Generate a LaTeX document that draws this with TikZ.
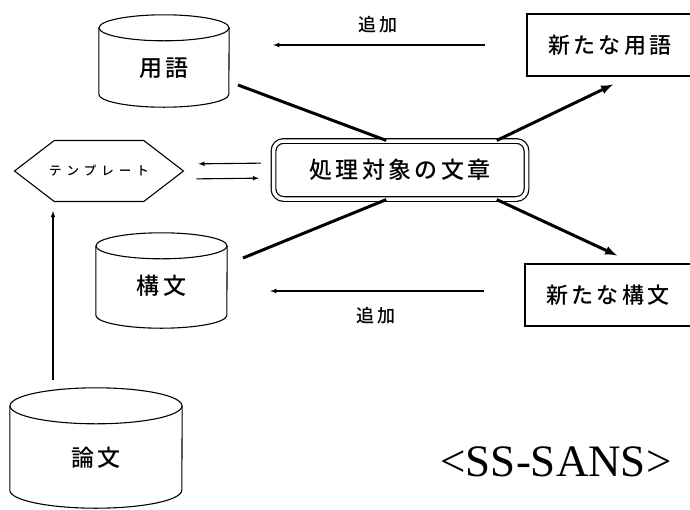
\documentclass[tikz,border=0pt]{standalone}
\usepackage{fontspec}
\setmainfont{Liberation Serif}
\newfontfamily\jp[LetterSpace=15, UprightFont={* Medium}]{Noto Sans CJK JP}
\usetikzlibrary{arrows}
\usetikzlibrary{positioning}
\usetikzlibrary{shapes.symbols}
% drum outline round a named body node: name, x radius, y radius
\newcommand{\drum}[3]{
    \draw[thin line] (#1.north west) -- (#1.south west)
        arc[start angle=180, end angle=360, x radius=#2pt, y radius=#3pt] -- (#1.north east);
    \draw[thin line] (#1.north) ellipse [x radius=#2pt, y radius=#3pt];
}

\begin{document}
\begin{tikzpicture}[
    x=1pt, y=-1pt,
    >=latex,
    thin line/.style={line width=1.1pt},
    thick line/.style={line width=3pt},
    db/.style 2 args={inner sep=0pt, text height=#1, text depth=#2,
        font=\jp\fontsize{23}{27}\selectfont},
    newbox/.style={draw, thin line, minimum width=166pt, minimum height=62pt,
        font=\jp\fontsize{22}{26}\selectfont},
    add arrow/.style={->, thin line},
    flow/.style={->, thick line}
    ]
    \useasboundingbox (0,0) rectangle (690,509);

    % stores
    \node[db={48pt}{18pt}, minimum width=130pt] (yogo) at (164,61) {用語};
    \node[db={48pt}{21pt}, minimum width=131pt] (kobun) at (161.5,280.5) {構文};
    \node[db={60pt}{24pt}, minimum width=172pt] (ronbun) at (96,448) {論文};
    \drum{yogo}{65}{13}
    \drum{kobun}{65.5}{13}
    \drum{ronbun}{86}{18}
    % template and text
    \node[signal, signal from=nowhere, signal to=west and east, signal pointer angle=75, draw, thin line,
        inner xsep=-9pt, minimum width=169pt, minimum height=61pt,
        font=\jp\addfontfeature{LetterSpace=40}\fontsize{12.5}{15}\selectfont] (tmpl) at (99,171) {テンプレート};
    \node[draw, double, double distance=3.5pt, line width=1.2pt, rounded corners=10pt,
        minimum width=253pt, minimum height=58pt,
        font=\jp\fontsize{23}{27}\selectfont] (doc) at (400,170) {処理対象の文章};
    % new items
    \node[newbox] (newterm) at (610,45) {新たな用語};
    \node[newbox] (newsyn) at (608,295) {新たな構文};
    \node[font=\fontsize{45}{50}\selectfont] (tag) at (556,462) {<SS-SANS>};

    % free ends
    \coordinate (a1) at (238,85);
    \coordinate (a2) at (243,258);
    \coordinate (up) at (53,380);

    % thick lines
    \draw[thick line] (a1) -- (doc.115);
    \draw[thick line] (a2) -- (doc.245);
    \draw[flow] (doc.17) -- ([xshift=3pt,yshift=-8pt]newterm.south);
    \draw[flow] (doc.343) -- ([xshift=9pt,yshift=8pt]newsyn.north);
    % add
    \draw[add arrow, shorten <=41pt, shorten >=44pt] (newterm.west) -- (newterm.west -| yogo.east)
        node[midway, above=8pt, font=\jp\fontsize{18}{21}\selectfont] (add1) {追加};
    \draw[add arrow, shorten <=40pt, shorten >=43pt] ([yshift=4pt]newsyn.west) -- ([yshift=4pt]newsyn.west -| kobun.east)
        node[midway, below=12pt, font=\jp\fontsize{18}{21}\selectfont] (add2) {追加};
    % template
    \draw[add arrow, shorten <=12pt, shorten >=14pt] ([yshift=7pt]doc.west) -- ([yshift=7pt]tmpl.east);
    \draw[add arrow, shorten <=12pt, shorten >=14pt] ([yshift=-8pt]tmpl.east) -- ([yshift=-8pt]doc.west);
    \draw[add arrow, shorten >=9pt] (up) -- (up |- tmpl.south);
\end{tikzpicture}
\end{document}
